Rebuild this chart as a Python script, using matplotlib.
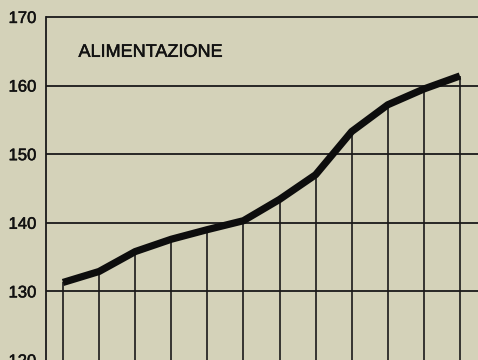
import matplotlib.pyplot as plt
import matplotlib.patheffects as pe

# monthly index values, food sector
months = list(range(12))
values = [131.3, 132.9, 135.8, 137.6, 139.0, 140.3, 143.4, 147.0, 153.3, 157.2, 159.5, 161.4]
y_ticks = [120, 130, 140, 150, 160, 170]
title = "ALIMENTAZIONE"

paper = "#d4d2b9"
ink = "#1a1a1a"
heavy = [pe.withStroke(linewidth=0.35, foreground="#111111")]

fig = plt.figure(figsize=(4.78, 3.6), dpi=100, facecolor=paper)
ax = fig.add_axes([46 / 478, 0, 1 - 46 / 478, 1])
ax.set_facecolor(paper)

ax.set_xlim(-0.47, 11.5)
ax.set_ylim(120.1, 172.47)

# horizontal rules
for yv in y_ticks[1:]:
    ax.axhline(yv, color=ink, lw=1.3, zorder=1)

# drop lines from the base up to each monthly value
ax.vlines(months, 120, values, color=ink, lw=1.2, zorder=1)

ax.plot(months, values, color="#0d0d0d", lw=5.2, solid_capstyle="butt",
        solid_joinstyle="round", zorder=3)

for side in ("top", "right", "bottom"):
    ax.spines[side].set_visible(False)
ax.spines["left"].set_bounds(120, 170)
ax.spines["left"].set_color(ink)
ax.spines["left"].set_linewidth(1.3)

ax.set_xticks([])
ax.set_yticks(y_ticks)
ax.set_yticklabels([str(t) for t in y_ticks], fontfamily="Liberation Sans",
                   fontsize=12, color="#111111")
ax.tick_params(axis="y", length=0, pad=7)
for lbl in ax.get_yticklabels():
    lbl.set_path_effects(heavy)

ax.text(0.43, 164.85, title, fontfamily="Liberation Sans", fontsize=13,
        color="#111111", va="center", ha="left", path_effects=heavy)

fig.savefig("out.png", dpi=100, facecolor=paper)
